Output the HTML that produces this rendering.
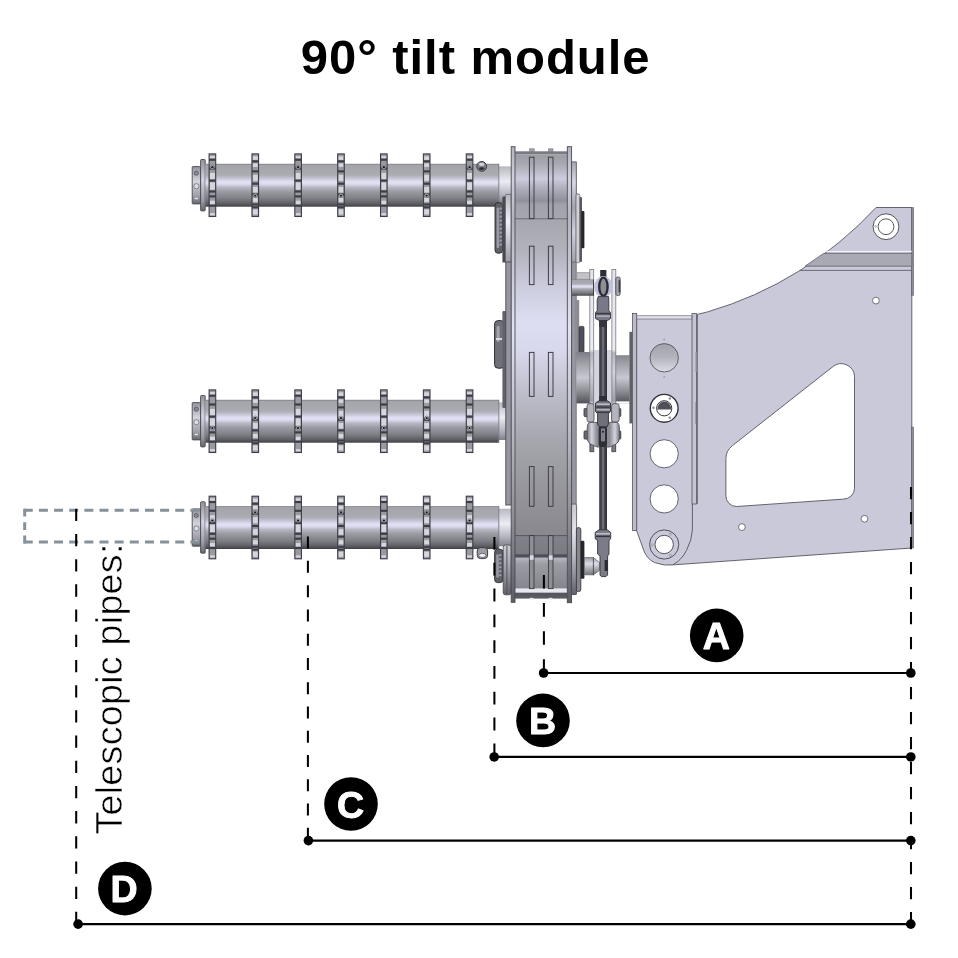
<!DOCTYPE html>
<html lang="en">
<head>
<meta charset="utf-8">
<title>90° tilt module</title>
<style>
html,body{margin:0;padding:0;background:#fff;}
body{width:958px;height:958px;overflow:hidden;position:relative;font-family:"Liberation Sans",sans-serif;}
svg{position:absolute;left:0;top:0;display:block;}
text{font-family:"Liberation Sans",sans-serif;}
</style>
</head>
<body>
<svg width="958" height="958" viewBox="0 0 958 958" style="will-change:transform">
<defs>
<filter id="soft" filterUnits="userSpaceOnUse" x="180" y="130" width="750" height="490"><feGaussianBlur stdDeviation="0.4"/></filter>
<linearGradient id="gTube" x1="0" y1="0" x2="0" y2="1">
<stop offset="0" stop-color="#7c7c84"/>
<stop offset="0.035" stop-color="#a4a4aa"/>
<stop offset="0.26" stop-color="#ababb3"/>
<stop offset="0.35" stop-color="#c8c8d8"/>
<stop offset="0.42" stop-color="#e2e2f6"/>
<stop offset="0.47" stop-color="#dcdcf0"/>
<stop offset="0.55" stop-color="#b6b6c2"/>
<stop offset="0.65" stop-color="#9a9aa2"/>
<stop offset="0.8" stop-color="#808088"/>
<stop offset="0.9" stop-color="#66666c"/>
<stop offset="0.97" stop-color="#4e4e54"/>
<stop offset="1" stop-color="#3c3c42"/>
</linearGradient>
<linearGradient id="gNeck" x1="0" y1="0" x2="0" y2="1">
<stop offset="0" stop-color="#b8b8c0"/>
<stop offset="0.4" stop-color="#ececf4"/>
<stop offset="0.75" stop-color="#b4b4bc"/>
<stop offset="1" stop-color="#80808a"/>
</linearGradient>
<linearGradient id="gCap" x1="0" y1="0" x2="0" y2="1">
<stop offset="0" stop-color="#94949c"/>
<stop offset="0.4" stop-color="#d4d4e0"/>
<stop offset="0.8" stop-color="#9c9ca4"/>
<stop offset="1" stop-color="#66666e"/>
</linearGradient>
<linearGradient id="gBody" gradientUnits="userSpaceOnUse" x1="0" y1="219" x2="0" y2="535">
<stop offset="0" stop-color="#a6a6ae"/>
<stop offset="0.1" stop-color="#b2b2bc"/>
<stop offset="0.22" stop-color="#cdcde0"/>
<stop offset="0.33" stop-color="#dedef2"/>
<stop offset="0.42" stop-color="#d8d8ec"/>
<stop offset="0.55" stop-color="#bebecb"/>
<stop offset="0.7" stop-color="#a6a6ae"/>
<stop offset="0.85" stop-color="#96969c"/>
<stop offset="1" stop-color="#88888e"/>
</linearGradient>
<linearGradient id="gTop" gradientUnits="userSpaceOnUse" x1="0" y1="154" x2="0" y2="219">
<stop offset="0" stop-color="#9c9ca4"/>
<stop offset="0.15" stop-color="#a8a8b0"/>
<stop offset="0.38" stop-color="#ccccdf"/>
<stop offset="0.5" stop-color="#b4b4c2"/>
<stop offset="0.72" stop-color="#90909a"/>
<stop offset="0.78" stop-color="#a2a2aa"/>
<stop offset="1" stop-color="#a6a6ae"/>
</linearGradient>
<linearGradient id="gBot" gradientUnits="userSpaceOnUse" x1="0" y1="535" x2="0" y2="599">
<stop offset="0" stop-color="#82828a"/>
<stop offset="0.29" stop-color="#7a7a82"/>
<stop offset="0.31" stop-color="#50505a"/>
<stop offset="0.345" stop-color="#50505a"/>
<stop offset="0.36" stop-color="#b6b6be"/>
<stop offset="0.45" stop-color="#9c9ca4"/>
<stop offset="0.83" stop-color="#85858d"/>
<stop offset="0.84" stop-color="#e8e8f0"/>
<stop offset="0.895" stop-color="#e8e8f0"/>
<stop offset="0.905" stop-color="#55555d"/>
<stop offset="1" stop-color="#5e5e66"/>
</linearGradient>
<linearGradient id="gPlateV" gradientUnits="userSpaceOnUse" x1="0" y1="150" x2="0" y2="600">
<stop offset="0" stop-color="#c0c0c8"/>
<stop offset="0.4" stop-color="#e6e6f4"/>
<stop offset="0.7" stop-color="#b8b8c0"/>
<stop offset="1" stop-color="#8e8e96"/>
</linearGradient>
<linearGradient id="gPlateI" gradientUnits="userSpaceOnUse" x1="0" y1="147" x2="0" y2="602">
<stop offset="0" stop-color="#b4b4bc"/>
<stop offset="0.07" stop-color="#d0d0dc"/>
<stop offset="0.16" stop-color="#b4b4bc"/>
<stop offset="0.4" stop-color="#e2e2f2"/>
<stop offset="0.65" stop-color="#b4b4bc"/>
<stop offset="0.85" stop-color="#85858d"/>
<stop offset="1" stop-color="#5e5e66"/>
</linearGradient>
<linearGradient id="gFl1" gradientUnits="userSpaceOnUse" x1="0" y1="194" x2="0" y2="262">
<stop offset="0" stop-color="#b4b4bc"/>
<stop offset="0.4" stop-color="#f0f0f8"/>
<stop offset="0.7" stop-color="#c4c4cc"/>
<stop offset="1" stop-color="#9c9ca4"/>
</linearGradient>
<linearGradient id="gFl2" gradientUnits="userSpaceOnUse" x1="0" y1="162" x2="0" y2="262">
<stop offset="0" stop-color="#a8a8b0"/>
<stop offset="0.2" stop-color="#d8d8e8"/>
<stop offset="0.45" stop-color="#a4a4ac"/>
<stop offset="0.7" stop-color="#d0d0e0"/>
<stop offset="1" stop-color="#a0a0a8"/>
</linearGradient>
<linearGradient id="gFl3" gradientUnits="userSpaceOnUse" x1="0" y1="504" x2="0" y2="595">
<stop offset="0" stop-color="#c8c8d0"/>
<stop offset="0.3" stop-color="#e4e4ec"/>
<stop offset="0.6" stop-color="#b4b4bc"/>
<stop offset="0.8" stop-color="#8c8c94"/>
<stop offset="1" stop-color="#606068"/>
</linearGradient>
<linearGradient id="gThin" gradientUnits="userSpaceOnUse" x1="0" y1="269" x2="0" y2="452">
<stop offset="0" stop-color="#e4e4ec"/>
<stop offset="0.44" stop-color="#ececf4"/>
<stop offset="0.46" stop-color="#b4b4bc"/>
<stop offset="0.56" stop-color="#d4d4dc"/>
<stop offset="0.72" stop-color="#a0a0a8"/>
<stop offset="0.74" stop-color="#dcdce4"/>
<stop offset="1" stop-color="#c4c4cc"/>
</linearGradient>
<linearGradient id="gClamp" x1="0" y1="0" x2="1" y2="0">
<stop offset="0" stop-color="#7c7c84"/>
<stop offset="0.14" stop-color="#d4d4dc"/>
<stop offset="0.3" stop-color="#8c8c94"/>
<stop offset="0.7" stop-color="#8c8c94"/>
<stop offset="0.86" stop-color="#d4d4dc"/>
<stop offset="1" stop-color="#7c7c84"/>
</linearGradient>
<linearGradient id="gShaft" x1="0" y1="0" x2="0" y2="1">
<stop offset="0" stop-color="#7c7c84"/>
<stop offset="0.25" stop-color="#a4a4ac"/>
<stop offset="0.5" stop-color="#c8c8d4"/>
<stop offset="0.7" stop-color="#9c9ca4"/>
<stop offset="0.9" stop-color="#6a6a72"/>
<stop offset="1" stop-color="#505058"/>
</linearGradient>
<linearGradient id="gPin" x1="0" y1="0" x2="0" y2="1">
<stop offset="0" stop-color="#9c9ca4"/>
<stop offset="0.35" stop-color="#dcdce8"/>
<stop offset="0.7" stop-color="#a4a4ac"/>
<stop offset="1" stop-color="#74747c"/>
</linearGradient>
<linearGradient id="gHole" x1="0" y1="0" x2="0" y2="1">
<stop offset="0" stop-color="#a2a2aa"/>
<stop offset="0.5" stop-color="#b4b4bc"/>
<stop offset="1" stop-color="#dcdce4"/>
</linearGradient>
<linearGradient id="gRod" x1="0" y1="0" x2="1" y2="0">
<stop offset="0" stop-color="#34343c"/>
<stop offset="0.3" stop-color="#4a4a54"/>
<stop offset="0.5" stop-color="#7c7c88"/>
<stop offset="0.7" stop-color="#44444c"/>
<stop offset="1" stop-color="#2e2e36"/>
</linearGradient>
<linearGradient id="gSpr" x1="0" y1="0" x2="1" y2="0">
<stop offset="0" stop-color="#b0b0b8"/>
<stop offset="0.5" stop-color="#e4e4ec"/>
<stop offset="1" stop-color="#b0b0b8"/>
</linearGradient>
</defs>

<text x="475.6" y="74" text-anchor="middle" font-size="49" font-weight="bold" letter-spacing="0.95" fill="#000">90° tilt module</text>
<g filter="url(#soft)">
<g><rect x="192.2" y="166.6" width="8.4" height="37.3" rx="0.8" fill="url(#gCap)" stroke="#4a4a52" stroke-width="0.9"/><circle cx="196.3" cy="173.2" r="2.1" fill="#8c8c94" stroke="#4a4a52" stroke-width="0.7"/><circle cx="196.4" cy="186.2" r="2.6" fill="#dcdce4" stroke="#66666e" stroke-width="0.7"/><rect x="194.2" y="197.2" width="4" height="2.4" fill="#e4e4ec" stroke="#77777f" stroke-width="0.5"/><rect x="200.6" y="159.5" width="4.6" height="51.4" rx="0.8" fill="url(#gCap)" stroke="#4a4a52" stroke-width="0.9"/><rect x="205.4" y="163.8" width="293.4" height="42.9" fill="url(#gTube)"/><rect x="498.6" y="166.4" width="13" height="37.6" fill="url(#gNeck)"/><line x1="498.8" y1="163.8" x2="498.8" y2="206.7" stroke="#6a6a72" stroke-width="0.8"/><g><rect x="209.10" y="153.90" width="6.6" height="62.6" fill="#9a9aa2"/><rect x="209.90" y="156.10" width="5.0" height="2.5" fill="#d6d6de"/><rect x="209.90" y="172.90" width="5.0" height="6.6" fill="#d6d6de"/><rect x="209.90" y="182.40" width="5.0" height="7.3" fill="#d6d6de"/><rect x="209.90" y="200.70" width="5.0" height="3.6" fill="#d6d6de"/><rect x="209.90" y="213.10" width="5.0" height="2.2" fill="#d6d6de"/><rect x="209.10" y="158.60" width="6.6" height="2.2" fill="#3e3e46"/><rect x="209.10" y="167.40" width="6.6" height="2.2" fill="#3e3e46"/><rect x="209.10" y="179.50" width="6.6" height="2.2" fill="#3e3e46"/><rect x="209.10" y="190.40" width="6.6" height="2.2" fill="#3e3e46"/><rect x="209.10" y="195.30" width="6.6" height="2.2" fill="#3e3e46"/><rect x="209.10" y="204.60" width="6.6" height="2.2" fill="#3e3e46"/><rect x="209.10" y="153.90" width="6.6" height="62.6" fill="none" stroke="#3e3e46" stroke-width="1.1"/></g><circle cx="212.40" cy="167.3" r="2" fill="#e6e6ee" stroke="#55555d" stroke-width="0.6"/><circle cx="212.40" cy="167.3" r="1.2" fill="#1c1c22"/><g><rect x="251.96" y="153.90" width="6.6" height="62.6" fill="#9a9aa2"/><rect x="252.76" y="156.30" width="5.0" height="3.6" fill="#d6d6de"/><rect x="252.76" y="163.40" width="5.0" height="3.5" fill="#d6d6de"/><rect x="252.76" y="174.90" width="5.0" height="6.0" fill="#d6d6de"/><rect x="252.76" y="186.90" width="5.0" height="5.6" fill="#d6d6de"/><rect x="252.76" y="197.90" width="5.0" height="4.0" fill="#d6d6de"/><rect x="252.76" y="209.40" width="5.0" height="5.1" fill="#d6d6de"/><rect x="251.96" y="160.30" width="6.6" height="2.2" fill="#3e3e46"/><rect x="251.96" y="170.30" width="6.6" height="2.2" fill="#3e3e46"/><rect x="251.96" y="182.60" width="6.6" height="2.2" fill="#3e3e46"/><rect x="251.96" y="193.30" width="6.6" height="2.2" fill="#3e3e46"/><rect x="251.96" y="203.40" width="6.6" height="2.2" fill="#3e3e46"/><rect x="251.96" y="206.20" width="6.6" height="2.2" fill="#3e3e46"/><rect x="251.96" y="153.90" width="6.6" height="62.6" fill="none" stroke="#3e3e46" stroke-width="1.1"/></g><circle cx="255.26" cy="195.6" r="2" fill="#e6e6ee" stroke="#55555d" stroke-width="0.6"/><circle cx="255.26" cy="195.6" r="1.2" fill="#1c1c22"/><g><rect x="294.82" y="153.90" width="6.6" height="62.6" fill="#9a9aa2"/><rect x="295.62" y="156.10" width="5.0" height="2.5" fill="#d6d6de"/><rect x="295.62" y="172.90" width="5.0" height="6.6" fill="#d6d6de"/><rect x="295.62" y="182.40" width="5.0" height="7.3" fill="#d6d6de"/><rect x="295.62" y="200.70" width="5.0" height="3.6" fill="#d6d6de"/><rect x="295.62" y="213.10" width="5.0" height="2.2" fill="#d6d6de"/><rect x="294.82" y="158.60" width="6.6" height="2.2" fill="#3e3e46"/><rect x="294.82" y="167.40" width="6.6" height="2.2" fill="#3e3e46"/><rect x="294.82" y="179.50" width="6.6" height="2.2" fill="#3e3e46"/><rect x="294.82" y="190.40" width="6.6" height="2.2" fill="#3e3e46"/><rect x="294.82" y="195.30" width="6.6" height="2.2" fill="#3e3e46"/><rect x="294.82" y="204.60" width="6.6" height="2.2" fill="#3e3e46"/><rect x="294.82" y="153.90" width="6.6" height="62.6" fill="none" stroke="#3e3e46" stroke-width="1.1"/></g><circle cx="298.12" cy="167.3" r="2" fill="#e6e6ee" stroke="#55555d" stroke-width="0.6"/><circle cx="298.12" cy="167.3" r="1.2" fill="#1c1c22"/><g><rect x="337.68" y="153.90" width="6.6" height="62.6" fill="#9a9aa2"/><rect x="338.48" y="156.30" width="5.0" height="3.6" fill="#d6d6de"/><rect x="338.48" y="163.40" width="5.0" height="3.5" fill="#d6d6de"/><rect x="338.48" y="174.90" width="5.0" height="6.0" fill="#d6d6de"/><rect x="338.48" y="186.90" width="5.0" height="5.6" fill="#d6d6de"/><rect x="338.48" y="197.90" width="5.0" height="4.0" fill="#d6d6de"/><rect x="338.48" y="209.40" width="5.0" height="5.1" fill="#d6d6de"/><rect x="337.68" y="160.30" width="6.6" height="2.2" fill="#3e3e46"/><rect x="337.68" y="170.30" width="6.6" height="2.2" fill="#3e3e46"/><rect x="337.68" y="182.60" width="6.6" height="2.2" fill="#3e3e46"/><rect x="337.68" y="193.30" width="6.6" height="2.2" fill="#3e3e46"/><rect x="337.68" y="203.40" width="6.6" height="2.2" fill="#3e3e46"/><rect x="337.68" y="206.20" width="6.6" height="2.2" fill="#3e3e46"/><rect x="337.68" y="153.90" width="6.6" height="62.6" fill="none" stroke="#3e3e46" stroke-width="1.1"/></g><circle cx="340.98" cy="195.6" r="2" fill="#e6e6ee" stroke="#55555d" stroke-width="0.6"/><circle cx="340.98" cy="195.6" r="1.2" fill="#1c1c22"/><g><rect x="380.54" y="153.90" width="6.6" height="62.6" fill="#9a9aa2"/><rect x="381.34" y="156.10" width="5.0" height="2.5" fill="#d6d6de"/><rect x="381.34" y="172.90" width="5.0" height="6.6" fill="#d6d6de"/><rect x="381.34" y="182.40" width="5.0" height="7.3" fill="#d6d6de"/><rect x="381.34" y="200.70" width="5.0" height="3.6" fill="#d6d6de"/><rect x="381.34" y="213.10" width="5.0" height="2.2" fill="#d6d6de"/><rect x="380.54" y="158.60" width="6.6" height="2.2" fill="#3e3e46"/><rect x="380.54" y="167.40" width="6.6" height="2.2" fill="#3e3e46"/><rect x="380.54" y="179.50" width="6.6" height="2.2" fill="#3e3e46"/><rect x="380.54" y="190.40" width="6.6" height="2.2" fill="#3e3e46"/><rect x="380.54" y="195.30" width="6.6" height="2.2" fill="#3e3e46"/><rect x="380.54" y="204.60" width="6.6" height="2.2" fill="#3e3e46"/><rect x="380.54" y="153.90" width="6.6" height="62.6" fill="none" stroke="#3e3e46" stroke-width="1.1"/></g><circle cx="383.84" cy="167.3" r="2" fill="#e6e6ee" stroke="#55555d" stroke-width="0.6"/><circle cx="383.84" cy="167.3" r="1.2" fill="#1c1c22"/><g><rect x="423.40" y="153.90" width="6.6" height="62.6" fill="#9a9aa2"/><rect x="424.20" y="156.30" width="5.0" height="3.6" fill="#d6d6de"/><rect x="424.20" y="163.40" width="5.0" height="3.5" fill="#d6d6de"/><rect x="424.20" y="174.90" width="5.0" height="6.0" fill="#d6d6de"/><rect x="424.20" y="186.90" width="5.0" height="5.6" fill="#d6d6de"/><rect x="424.20" y="197.90" width="5.0" height="4.0" fill="#d6d6de"/><rect x="424.20" y="209.40" width="5.0" height="5.1" fill="#d6d6de"/><rect x="423.40" y="160.30" width="6.6" height="2.2" fill="#3e3e46"/><rect x="423.40" y="170.30" width="6.6" height="2.2" fill="#3e3e46"/><rect x="423.40" y="182.60" width="6.6" height="2.2" fill="#3e3e46"/><rect x="423.40" y="193.30" width="6.6" height="2.2" fill="#3e3e46"/><rect x="423.40" y="203.40" width="6.6" height="2.2" fill="#3e3e46"/><rect x="423.40" y="206.20" width="6.6" height="2.2" fill="#3e3e46"/><rect x="423.40" y="153.90" width="6.6" height="62.6" fill="none" stroke="#3e3e46" stroke-width="1.1"/></g><circle cx="426.70" cy="195.6" r="2" fill="#e6e6ee" stroke="#55555d" stroke-width="0.6"/><circle cx="426.70" cy="195.6" r="1.2" fill="#1c1c22"/><g><rect x="466.26" y="153.90" width="6.6" height="62.6" fill="#9a9aa2"/><rect x="467.06" y="156.10" width="5.0" height="2.5" fill="#d6d6de"/><rect x="467.06" y="172.90" width="5.0" height="6.6" fill="#d6d6de"/><rect x="467.06" y="182.40" width="5.0" height="7.3" fill="#d6d6de"/><rect x="467.06" y="200.70" width="5.0" height="3.6" fill="#d6d6de"/><rect x="467.06" y="213.10" width="5.0" height="2.2" fill="#d6d6de"/><rect x="466.26" y="158.60" width="6.6" height="2.2" fill="#3e3e46"/><rect x="466.26" y="167.40" width="6.6" height="2.2" fill="#3e3e46"/><rect x="466.26" y="179.50" width="6.6" height="2.2" fill="#3e3e46"/><rect x="466.26" y="190.40" width="6.6" height="2.2" fill="#3e3e46"/><rect x="466.26" y="195.30" width="6.6" height="2.2" fill="#3e3e46"/><rect x="466.26" y="204.60" width="6.6" height="2.2" fill="#3e3e46"/><rect x="466.26" y="153.90" width="6.6" height="62.6" fill="none" stroke="#3e3e46" stroke-width="1.1"/></g><circle cx="469.56" cy="167.3" r="2" fill="#e6e6ee" stroke="#55555d" stroke-width="0.6"/><circle cx="469.56" cy="167.3" r="1.2" fill="#1c1c22"/></g>
<g><rect x="192.2" y="402.6" width="8.4" height="37.3" rx="0.8" fill="url(#gCap)" stroke="#4a4a52" stroke-width="0.9"/><circle cx="196.3" cy="409.2" r="2.1" fill="#8c8c94" stroke="#4a4a52" stroke-width="0.7"/><circle cx="196.4" cy="422.2" r="2.6" fill="#dcdce4" stroke="#66666e" stroke-width="0.7"/><rect x="194.2" y="433.2" width="4" height="2.4" fill="#e4e4ec" stroke="#77777f" stroke-width="0.5"/><rect x="200.6" y="395.5" width="4.6" height="51.4" rx="0.8" fill="url(#gCap)" stroke="#4a4a52" stroke-width="0.9"/><rect x="205.4" y="399.8" width="293.4" height="42.9" fill="url(#gTube)"/><rect x="498.6" y="402.4" width="13" height="37.6" fill="url(#gNeck)"/><line x1="498.8" y1="399.8" x2="498.8" y2="442.7" stroke="#6a6a72" stroke-width="0.8"/><g><rect x="209.10" y="389.90" width="6.6" height="62.6" fill="#9a9aa2"/><rect x="209.90" y="392.10" width="5.0" height="2.5" fill="#d6d6de"/><rect x="209.90" y="408.90" width="5.0" height="6.6" fill="#d6d6de"/><rect x="209.90" y="418.40" width="5.0" height="7.3" fill="#d6d6de"/><rect x="209.90" y="436.70" width="5.0" height="3.6" fill="#d6d6de"/><rect x="209.90" y="449.10" width="5.0" height="2.2" fill="#d6d6de"/><rect x="209.10" y="394.60" width="6.6" height="2.2" fill="#3e3e46"/><rect x="209.10" y="403.40" width="6.6" height="2.2" fill="#3e3e46"/><rect x="209.10" y="415.50" width="6.6" height="2.2" fill="#3e3e46"/><rect x="209.10" y="426.40" width="6.6" height="2.2" fill="#3e3e46"/><rect x="209.10" y="431.30" width="6.6" height="2.2" fill="#3e3e46"/><rect x="209.10" y="440.60" width="6.6" height="2.2" fill="#3e3e46"/><rect x="209.10" y="389.90" width="6.6" height="62.6" fill="none" stroke="#3e3e46" stroke-width="1.1"/></g><circle cx="212.40" cy="428.1" r="2" fill="#e6e6ee" stroke="#55555d" stroke-width="0.6"/><circle cx="212.40" cy="428.1" r="1.2" fill="#1c1c22"/><g><rect x="251.96" y="389.90" width="6.6" height="62.6" fill="#9a9aa2"/><rect x="252.76" y="392.30" width="5.0" height="3.6" fill="#d6d6de"/><rect x="252.76" y="399.40" width="5.0" height="3.5" fill="#d6d6de"/><rect x="252.76" y="410.90" width="5.0" height="6.0" fill="#d6d6de"/><rect x="252.76" y="422.90" width="5.0" height="5.6" fill="#d6d6de"/><rect x="252.76" y="433.90" width="5.0" height="4.0" fill="#d6d6de"/><rect x="252.76" y="445.40" width="5.0" height="5.1" fill="#d6d6de"/><rect x="251.96" y="396.30" width="6.6" height="2.2" fill="#3e3e46"/><rect x="251.96" y="406.30" width="6.6" height="2.2" fill="#3e3e46"/><rect x="251.96" y="418.60" width="6.6" height="2.2" fill="#3e3e46"/><rect x="251.96" y="429.30" width="6.6" height="2.2" fill="#3e3e46"/><rect x="251.96" y="439.40" width="6.6" height="2.2" fill="#3e3e46"/><rect x="251.96" y="442.20" width="6.6" height="2.2" fill="#3e3e46"/><rect x="251.96" y="389.90" width="6.6" height="62.6" fill="none" stroke="#3e3e46" stroke-width="1.1"/></g><circle cx="255.26" cy="418.1" r="2" fill="#e6e6ee" stroke="#55555d" stroke-width="0.6"/><circle cx="255.26" cy="418.1" r="1.2" fill="#1c1c22"/><g><rect x="294.82" y="389.90" width="6.6" height="62.6" fill="#9a9aa2"/><rect x="295.62" y="392.10" width="5.0" height="2.5" fill="#d6d6de"/><rect x="295.62" y="408.90" width="5.0" height="6.6" fill="#d6d6de"/><rect x="295.62" y="418.40" width="5.0" height="7.3" fill="#d6d6de"/><rect x="295.62" y="436.70" width="5.0" height="3.6" fill="#d6d6de"/><rect x="295.62" y="449.10" width="5.0" height="2.2" fill="#d6d6de"/><rect x="294.82" y="394.60" width="6.6" height="2.2" fill="#3e3e46"/><rect x="294.82" y="403.40" width="6.6" height="2.2" fill="#3e3e46"/><rect x="294.82" y="415.50" width="6.6" height="2.2" fill="#3e3e46"/><rect x="294.82" y="426.40" width="6.6" height="2.2" fill="#3e3e46"/><rect x="294.82" y="431.30" width="6.6" height="2.2" fill="#3e3e46"/><rect x="294.82" y="440.60" width="6.6" height="2.2" fill="#3e3e46"/><rect x="294.82" y="389.90" width="6.6" height="62.6" fill="none" stroke="#3e3e46" stroke-width="1.1"/></g><circle cx="298.12" cy="428.1" r="2" fill="#e6e6ee" stroke="#55555d" stroke-width="0.6"/><circle cx="298.12" cy="428.1" r="1.2" fill="#1c1c22"/><g><rect x="337.68" y="389.90" width="6.6" height="62.6" fill="#9a9aa2"/><rect x="338.48" y="392.30" width="5.0" height="3.6" fill="#d6d6de"/><rect x="338.48" y="399.40" width="5.0" height="3.5" fill="#d6d6de"/><rect x="338.48" y="410.90" width="5.0" height="6.0" fill="#d6d6de"/><rect x="338.48" y="422.90" width="5.0" height="5.6" fill="#d6d6de"/><rect x="338.48" y="433.90" width="5.0" height="4.0" fill="#d6d6de"/><rect x="338.48" y="445.40" width="5.0" height="5.1" fill="#d6d6de"/><rect x="337.68" y="396.30" width="6.6" height="2.2" fill="#3e3e46"/><rect x="337.68" y="406.30" width="6.6" height="2.2" fill="#3e3e46"/><rect x="337.68" y="418.60" width="6.6" height="2.2" fill="#3e3e46"/><rect x="337.68" y="429.30" width="6.6" height="2.2" fill="#3e3e46"/><rect x="337.68" y="439.40" width="6.6" height="2.2" fill="#3e3e46"/><rect x="337.68" y="442.20" width="6.6" height="2.2" fill="#3e3e46"/><rect x="337.68" y="389.90" width="6.6" height="62.6" fill="none" stroke="#3e3e46" stroke-width="1.1"/></g><circle cx="340.98" cy="418.1" r="2" fill="#e6e6ee" stroke="#55555d" stroke-width="0.6"/><circle cx="340.98" cy="418.1" r="1.2" fill="#1c1c22"/><g><rect x="380.54" y="389.90" width="6.6" height="62.6" fill="#9a9aa2"/><rect x="381.34" y="392.10" width="5.0" height="2.5" fill="#d6d6de"/><rect x="381.34" y="408.90" width="5.0" height="6.6" fill="#d6d6de"/><rect x="381.34" y="418.40" width="5.0" height="7.3" fill="#d6d6de"/><rect x="381.34" y="436.70" width="5.0" height="3.6" fill="#d6d6de"/><rect x="381.34" y="449.10" width="5.0" height="2.2" fill="#d6d6de"/><rect x="380.54" y="394.60" width="6.6" height="2.2" fill="#3e3e46"/><rect x="380.54" y="403.40" width="6.6" height="2.2" fill="#3e3e46"/><rect x="380.54" y="415.50" width="6.6" height="2.2" fill="#3e3e46"/><rect x="380.54" y="426.40" width="6.6" height="2.2" fill="#3e3e46"/><rect x="380.54" y="431.30" width="6.6" height="2.2" fill="#3e3e46"/><rect x="380.54" y="440.60" width="6.6" height="2.2" fill="#3e3e46"/><rect x="380.54" y="389.90" width="6.6" height="62.6" fill="none" stroke="#3e3e46" stroke-width="1.1"/></g><circle cx="383.84" cy="428.1" r="2" fill="#e6e6ee" stroke="#55555d" stroke-width="0.6"/><circle cx="383.84" cy="428.1" r="1.2" fill="#1c1c22"/><g><rect x="423.40" y="389.90" width="6.6" height="62.6" fill="#9a9aa2"/><rect x="424.20" y="392.30" width="5.0" height="3.6" fill="#d6d6de"/><rect x="424.20" y="399.40" width="5.0" height="3.5" fill="#d6d6de"/><rect x="424.20" y="410.90" width="5.0" height="6.0" fill="#d6d6de"/><rect x="424.20" y="422.90" width="5.0" height="5.6" fill="#d6d6de"/><rect x="424.20" y="433.90" width="5.0" height="4.0" fill="#d6d6de"/><rect x="424.20" y="445.40" width="5.0" height="5.1" fill="#d6d6de"/><rect x="423.40" y="396.30" width="6.6" height="2.2" fill="#3e3e46"/><rect x="423.40" y="406.30" width="6.6" height="2.2" fill="#3e3e46"/><rect x="423.40" y="418.60" width="6.6" height="2.2" fill="#3e3e46"/><rect x="423.40" y="429.30" width="6.6" height="2.2" fill="#3e3e46"/><rect x="423.40" y="439.40" width="6.6" height="2.2" fill="#3e3e46"/><rect x="423.40" y="442.20" width="6.6" height="2.2" fill="#3e3e46"/><rect x="423.40" y="389.90" width="6.6" height="62.6" fill="none" stroke="#3e3e46" stroke-width="1.1"/></g><circle cx="426.70" cy="418.1" r="2" fill="#e6e6ee" stroke="#55555d" stroke-width="0.6"/><circle cx="426.70" cy="418.1" r="1.2" fill="#1c1c22"/><g><rect x="466.26" y="389.90" width="6.6" height="62.6" fill="#9a9aa2"/><rect x="467.06" y="392.10" width="5.0" height="2.5" fill="#d6d6de"/><rect x="467.06" y="408.90" width="5.0" height="6.6" fill="#d6d6de"/><rect x="467.06" y="418.40" width="5.0" height="7.3" fill="#d6d6de"/><rect x="467.06" y="436.70" width="5.0" height="3.6" fill="#d6d6de"/><rect x="467.06" y="449.10" width="5.0" height="2.2" fill="#d6d6de"/><rect x="466.26" y="394.60" width="6.6" height="2.2" fill="#3e3e46"/><rect x="466.26" y="403.40" width="6.6" height="2.2" fill="#3e3e46"/><rect x="466.26" y="415.50" width="6.6" height="2.2" fill="#3e3e46"/><rect x="466.26" y="426.40" width="6.6" height="2.2" fill="#3e3e46"/><rect x="466.26" y="431.30" width="6.6" height="2.2" fill="#3e3e46"/><rect x="466.26" y="440.60" width="6.6" height="2.2" fill="#3e3e46"/><rect x="466.26" y="389.90" width="6.6" height="62.6" fill="none" stroke="#3e3e46" stroke-width="1.1"/></g><circle cx="469.56" cy="428.1" r="2" fill="#e6e6ee" stroke="#55555d" stroke-width="0.6"/><circle cx="469.56" cy="428.1" r="1.2" fill="#1c1c22"/></g>
<g><rect x="192.2" y="508.9" width="8.4" height="37.3" rx="0.8" fill="url(#gCap)" stroke="#4a4a52" stroke-width="0.9"/><circle cx="196.3" cy="515.5" r="2.1" fill="#8c8c94" stroke="#4a4a52" stroke-width="0.7"/><circle cx="196.4" cy="528.5" r="2.6" fill="#dcdce4" stroke="#66666e" stroke-width="0.7"/><rect x="194.2" y="539.5" width="4" height="2.4" fill="#e4e4ec" stroke="#77777f" stroke-width="0.5"/><rect x="200.6" y="501.8" width="4.6" height="51.4" rx="0.8" fill="url(#gCap)" stroke="#4a4a52" stroke-width="0.9"/><rect x="205.4" y="506.1" width="293.4" height="42.9" fill="url(#gTube)"/><rect x="498.6" y="508.7" width="13" height="37.6" fill="url(#gNeck)"/><line x1="498.8" y1="506.1" x2="498.8" y2="549.0" stroke="#6a6a72" stroke-width="0.8"/><g><rect x="209.10" y="496.20" width="6.6" height="62.6" fill="#9a9aa2"/><rect x="209.90" y="498.40" width="5.0" height="2.5" fill="#d6d6de"/><rect x="209.90" y="515.20" width="5.0" height="6.6" fill="#d6d6de"/><rect x="209.90" y="524.70" width="5.0" height="7.3" fill="#d6d6de"/><rect x="209.90" y="543.00" width="5.0" height="3.6" fill="#d6d6de"/><rect x="209.90" y="555.40" width="5.0" height="2.2" fill="#d6d6de"/><rect x="209.10" y="500.90" width="6.6" height="2.2" fill="#3e3e46"/><rect x="209.10" y="509.70" width="6.6" height="2.2" fill="#3e3e46"/><rect x="209.10" y="521.80" width="6.6" height="2.2" fill="#3e3e46"/><rect x="209.10" y="532.70" width="6.6" height="2.2" fill="#3e3e46"/><rect x="209.10" y="537.60" width="6.6" height="2.2" fill="#3e3e46"/><rect x="209.10" y="546.90" width="6.6" height="2.2" fill="#3e3e46"/><rect x="209.10" y="496.20" width="6.6" height="62.6" fill="none" stroke="#3e3e46" stroke-width="1.1"/></g><circle cx="212.40" cy="520.6" r="2" fill="#e6e6ee" stroke="#55555d" stroke-width="0.6"/><circle cx="212.40" cy="520.6" r="1.2" fill="#1c1c22"/><g><rect x="251.96" y="496.20" width="6.6" height="62.6" fill="#9a9aa2"/><rect x="252.76" y="498.60" width="5.0" height="3.6" fill="#d6d6de"/><rect x="252.76" y="505.70" width="5.0" height="3.5" fill="#d6d6de"/><rect x="252.76" y="517.20" width="5.0" height="6.0" fill="#d6d6de"/><rect x="252.76" y="529.20" width="5.0" height="5.6" fill="#d6d6de"/><rect x="252.76" y="540.20" width="5.0" height="4.0" fill="#d6d6de"/><rect x="252.76" y="551.70" width="5.0" height="5.1" fill="#d6d6de"/><rect x="251.96" y="502.60" width="6.6" height="2.2" fill="#3e3e46"/><rect x="251.96" y="512.60" width="6.6" height="2.2" fill="#3e3e46"/><rect x="251.96" y="524.90" width="6.6" height="2.2" fill="#3e3e46"/><rect x="251.96" y="535.60" width="6.6" height="2.2" fill="#3e3e46"/><rect x="251.96" y="545.70" width="6.6" height="2.2" fill="#3e3e46"/><rect x="251.96" y="548.50" width="6.6" height="2.2" fill="#3e3e46"/><rect x="251.96" y="496.20" width="6.6" height="62.6" fill="none" stroke="#3e3e46" stroke-width="1.1"/></g><circle cx="255.26" cy="512.5" r="2" fill="#e6e6ee" stroke="#55555d" stroke-width="0.6"/><circle cx="255.26" cy="512.5" r="1.2" fill="#1c1c22"/><g><rect x="294.82" y="496.20" width="6.6" height="62.6" fill="#9a9aa2"/><rect x="295.62" y="498.40" width="5.0" height="2.5" fill="#d6d6de"/><rect x="295.62" y="515.20" width="5.0" height="6.6" fill="#d6d6de"/><rect x="295.62" y="524.70" width="5.0" height="7.3" fill="#d6d6de"/><rect x="295.62" y="543.00" width="5.0" height="3.6" fill="#d6d6de"/><rect x="295.62" y="555.40" width="5.0" height="2.2" fill="#d6d6de"/><rect x="294.82" y="500.90" width="6.6" height="2.2" fill="#3e3e46"/><rect x="294.82" y="509.70" width="6.6" height="2.2" fill="#3e3e46"/><rect x="294.82" y="521.80" width="6.6" height="2.2" fill="#3e3e46"/><rect x="294.82" y="532.70" width="6.6" height="2.2" fill="#3e3e46"/><rect x="294.82" y="537.60" width="6.6" height="2.2" fill="#3e3e46"/><rect x="294.82" y="546.90" width="6.6" height="2.2" fill="#3e3e46"/><rect x="294.82" y="496.20" width="6.6" height="62.6" fill="none" stroke="#3e3e46" stroke-width="1.1"/></g><circle cx="298.12" cy="520.6" r="2" fill="#e6e6ee" stroke="#55555d" stroke-width="0.6"/><circle cx="298.12" cy="520.6" r="1.2" fill="#1c1c22"/><g><rect x="337.68" y="496.20" width="6.6" height="62.6" fill="#9a9aa2"/><rect x="338.48" y="498.60" width="5.0" height="3.6" fill="#d6d6de"/><rect x="338.48" y="505.70" width="5.0" height="3.5" fill="#d6d6de"/><rect x="338.48" y="517.20" width="5.0" height="6.0" fill="#d6d6de"/><rect x="338.48" y="529.20" width="5.0" height="5.6" fill="#d6d6de"/><rect x="338.48" y="540.20" width="5.0" height="4.0" fill="#d6d6de"/><rect x="338.48" y="551.70" width="5.0" height="5.1" fill="#d6d6de"/><rect x="337.68" y="502.60" width="6.6" height="2.2" fill="#3e3e46"/><rect x="337.68" y="512.60" width="6.6" height="2.2" fill="#3e3e46"/><rect x="337.68" y="524.90" width="6.6" height="2.2" fill="#3e3e46"/><rect x="337.68" y="535.60" width="6.6" height="2.2" fill="#3e3e46"/><rect x="337.68" y="545.70" width="6.6" height="2.2" fill="#3e3e46"/><rect x="337.68" y="548.50" width="6.6" height="2.2" fill="#3e3e46"/><rect x="337.68" y="496.20" width="6.6" height="62.6" fill="none" stroke="#3e3e46" stroke-width="1.1"/></g><circle cx="340.98" cy="512.5" r="2" fill="#e6e6ee" stroke="#55555d" stroke-width="0.6"/><circle cx="340.98" cy="512.5" r="1.2" fill="#1c1c22"/><g><rect x="380.54" y="496.20" width="6.6" height="62.6" fill="#9a9aa2"/><rect x="381.34" y="498.40" width="5.0" height="2.5" fill="#d6d6de"/><rect x="381.34" y="515.20" width="5.0" height="6.6" fill="#d6d6de"/><rect x="381.34" y="524.70" width="5.0" height="7.3" fill="#d6d6de"/><rect x="381.34" y="543.00" width="5.0" height="3.6" fill="#d6d6de"/><rect x="381.34" y="555.40" width="5.0" height="2.2" fill="#d6d6de"/><rect x="380.54" y="500.90" width="6.6" height="2.2" fill="#3e3e46"/><rect x="380.54" y="509.70" width="6.6" height="2.2" fill="#3e3e46"/><rect x="380.54" y="521.80" width="6.6" height="2.2" fill="#3e3e46"/><rect x="380.54" y="532.70" width="6.6" height="2.2" fill="#3e3e46"/><rect x="380.54" y="537.60" width="6.6" height="2.2" fill="#3e3e46"/><rect x="380.54" y="546.90" width="6.6" height="2.2" fill="#3e3e46"/><rect x="380.54" y="496.20" width="6.6" height="62.6" fill="none" stroke="#3e3e46" stroke-width="1.1"/></g><circle cx="383.84" cy="520.6" r="2" fill="#e6e6ee" stroke="#55555d" stroke-width="0.6"/><circle cx="383.84" cy="520.6" r="1.2" fill="#1c1c22"/><g><rect x="423.40" y="496.20" width="6.6" height="62.6" fill="#9a9aa2"/><rect x="424.20" y="498.60" width="5.0" height="3.6" fill="#d6d6de"/><rect x="424.20" y="505.70" width="5.0" height="3.5" fill="#d6d6de"/><rect x="424.20" y="517.20" width="5.0" height="6.0" fill="#d6d6de"/><rect x="424.20" y="529.20" width="5.0" height="5.6" fill="#d6d6de"/><rect x="424.20" y="540.20" width="5.0" height="4.0" fill="#d6d6de"/><rect x="424.20" y="551.70" width="5.0" height="5.1" fill="#d6d6de"/><rect x="423.40" y="502.60" width="6.6" height="2.2" fill="#3e3e46"/><rect x="423.40" y="512.60" width="6.6" height="2.2" fill="#3e3e46"/><rect x="423.40" y="524.90" width="6.6" height="2.2" fill="#3e3e46"/><rect x="423.40" y="535.60" width="6.6" height="2.2" fill="#3e3e46"/><rect x="423.40" y="545.70" width="6.6" height="2.2" fill="#3e3e46"/><rect x="423.40" y="548.50" width="6.6" height="2.2" fill="#3e3e46"/><rect x="423.40" y="496.20" width="6.6" height="62.6" fill="none" stroke="#3e3e46" stroke-width="1.1"/></g><circle cx="426.70" cy="512.5" r="2" fill="#e6e6ee" stroke="#55555d" stroke-width="0.6"/><circle cx="426.70" cy="512.5" r="1.2" fill="#1c1c22"/><g><rect x="466.26" y="496.20" width="6.6" height="62.6" fill="#9a9aa2"/><rect x="467.06" y="498.40" width="5.0" height="2.5" fill="#d6d6de"/><rect x="467.06" y="515.20" width="5.0" height="6.6" fill="#d6d6de"/><rect x="467.06" y="524.70" width="5.0" height="7.3" fill="#d6d6de"/><rect x="467.06" y="543.00" width="5.0" height="3.6" fill="#d6d6de"/><rect x="467.06" y="555.40" width="5.0" height="2.2" fill="#d6d6de"/><rect x="466.26" y="500.90" width="6.6" height="2.2" fill="#3e3e46"/><rect x="466.26" y="509.70" width="6.6" height="2.2" fill="#3e3e46"/><rect x="466.26" y="521.80" width="6.6" height="2.2" fill="#3e3e46"/><rect x="466.26" y="532.70" width="6.6" height="2.2" fill="#3e3e46"/><rect x="466.26" y="537.60" width="6.6" height="2.2" fill="#3e3e46"/><rect x="466.26" y="546.90" width="6.6" height="2.2" fill="#3e3e46"/><rect x="466.26" y="496.20" width="6.6" height="62.6" fill="none" stroke="#3e3e46" stroke-width="1.1"/></g><circle cx="469.56" cy="520.6" r="2" fill="#e6e6ee" stroke="#55555d" stroke-width="0.6"/><circle cx="469.56" cy="520.6" r="1.2" fill="#1c1c22"/></g>
<g><circle cx="481.7" cy="166.4" r="4.9" fill="#7c7c86" stroke="#3a3a42" stroke-width="1"/><ellipse cx="481.7" cy="164.4" rx="3.2" ry="2.2" fill="#d0d0d8" stroke="#55555d" stroke-width="0.6"/><ellipse cx="481.7" cy="168.6" rx="2.8" ry="1.4" fill="#2e2e36"/></g>
<g><rect x="477.2" y="547.6" width="10.4" height="11" rx="3.4" fill="#9c9ca6" stroke="#3a3a42" stroke-width="1"/><ellipse cx="482.4" cy="555.4" rx="3.6" ry="2" fill="#f0f0f6" stroke="#4a4a52" stroke-width="0.7"/></g>
<g><rect x="495.0" y="202.6" width="7.6" height="50.6" rx="3" fill="#5e5e66" stroke="#2e2e36" stroke-width="0.9"/><rect x="496.6" y="207.6" width="2.6" height="40.6" rx="1.2" fill="#9a9aa6"/><rect x="499.6" y="207.6" width="2.2" height="2" fill="#a0a0aa"/><rect x="499.6" y="211.6" width="2.2" height="2" fill="#a0a0aa"/><rect x="499.6" y="215.6" width="2.2" height="2" fill="#a0a0aa"/><rect x="499.6" y="219.6" width="2.2" height="2" fill="#a0a0aa"/><rect x="499.6" y="223.6" width="2.2" height="2" fill="#a0a0aa"/><rect x="499.6" y="227.6" width="2.2" height="2" fill="#a0a0aa"/><rect x="499.6" y="231.6" width="2.2" height="2" fill="#a0a0aa"/><rect x="499.6" y="235.6" width="2.2" height="2" fill="#a0a0aa"/><rect x="499.6" y="239.6" width="2.2" height="2" fill="#a0a0aa"/><rect x="499.6" y="243.6" width="2.2" height="2" fill="#a0a0aa"/><rect x="502.4" y="196.6" width="3.6" height="66" rx="1.2" fill="#4a4a52"/><rect x="505.4" y="194.4" width="5.8" height="68" rx="1.2" fill="url(#gFl1)" stroke="#5a5a62" stroke-width="0.7"/><rect x="494.6" y="320.6" width="9.6" height="47.6" rx="3.5" fill="#70707a" stroke="#2e2e36" stroke-width="1"/><rect x="496.6" y="326" width="3" height="16" rx="1.4" fill="#a4a4ae"/><rect x="496" y="338" width="6" height="2" fill="#d8d8e0"/><rect x="502.4" y="311" width="3.6" height="97" rx="1.2" fill="#62626a"/><rect x="505.8" y="262" width="5.6" height="243" fill="#9696a0" stroke="#4a4a52" stroke-width="0.9"/><rect x="494.6" y="549.2" width="8.4" height="33.4" rx="3" fill="#5e5e66" stroke="#2e2e36" stroke-width="0.9"/><rect x="496.20000000000005" y="554.2" width="2.6" height="23.4" rx="1.2" fill="#9a9aa6"/><rect x="499.20000000000005" y="554.2" width="2.2" height="2" fill="#a0a0aa"/><rect x="499.20000000000005" y="558.2" width="2.2" height="2" fill="#a0a0aa"/><rect x="499.20000000000005" y="562.2" width="2.2" height="2" fill="#a0a0aa"/><rect x="499.20000000000005" y="566.2" width="2.2" height="2" fill="#a0a0aa"/><rect x="499.20000000000005" y="570.2" width="2.2" height="2" fill="#a0a0aa"/><rect x="499.20000000000005" y="574.2" width="2.2" height="2" fill="#a0a0aa"/><rect x="503.2" y="545" width="8" height="49.8" rx="2.2" fill="url(#gFl3)" stroke="#44444c" stroke-width="0.8"/><rect x="506.4" y="546" width="1" height="48" fill="#55555d"/><rect x="571.4" y="162" width="4.8" height="432.6" fill="#9696a0" stroke="#5a5a62" stroke-width="0.7"/><rect x="571.4" y="162" width="4.8" height="100" fill="url(#gFl2)" stroke="#5a5a62" stroke-width="0.7"/><rect x="571.4" y="504" width="5.2" height="90.6" rx="1.5" fill="url(#gFl3)" stroke="#4a4a52" stroke-width="0.7"/><rect x="576" y="193.8" width="3.8" height="69" rx="1.6" fill="#d0d0d8" stroke="#5a5a62" stroke-width="0.7"/><rect x="579.6" y="197" width="2.4" height="65" rx="1" fill="#5a5a62"/><rect x="581.2" y="211" width="3.2" height="37.2" rx="1" fill="#26262c"/><rect x="576.2" y="300" width="3" height="60" fill="#8a8a92"/><rect x="579" y="326.4" width="5" height="26" rx="1.2" fill="#50505a" stroke="#2e2e36" stroke-width="0.7"/><rect x="576.4" y="527.6" width="4.4" height="64" rx="2" fill="#86868e" stroke="#3a3a42" stroke-width="0.9"/><rect x="580.6" y="540.7" width="3.8" height="38" rx="1.2" fill="#26262c"/><rect x="514.8" y="151.3" width="52.6" height="3.2" fill="#7a7a82"/><rect x="514.8" y="154.4" width="52.6" height="64.6" fill="url(#gTop)"/><rect x="514.8" y="219" width="52.6" height="316.4" fill="url(#gBody)"/><rect x="514.8" y="535.4" width="52.6" height="63.2" fill="url(#gBot)"/><line x1="514.8" y1="218.8" x2="567.4" y2="218.8" stroke="#6a6a72" stroke-width="1"/><line x1="514.8" y1="535.6" x2="567.4" y2="535.6" stroke="#55555d" stroke-width="1"/><rect x="529.6" y="148.8" width="4.6" height="2.6" fill="#a0a0a8" stroke="#6a6a72" stroke-width="0.5"/><rect x="548.4" y="148.8" width="4.6" height="2.6" fill="#a0a0a8" stroke="#6a6a72" stroke-width="0.5"/><rect x="529.4" y="157.2" width="4.6" height="61.4" fill="url(#gTop)" stroke="#3e3e46" stroke-width="1"/><rect x="529.4" y="246.2" width="4.6" height="38.4" fill="url(#gBody)" stroke="#3e3e46" stroke-width="1"/><rect x="529.4" y="352.4" width="4.6" height="44.0" fill="url(#gBody)" stroke="#3e3e46" stroke-width="1"/><rect x="529.4" y="466.6" width="4.6" height="39.7" fill="url(#gBody)" stroke="#3e3e46" stroke-width="1"/><rect x="529.4" y="535.6" width="4.6" height="53" fill="#8e8e96" stroke="#3a3a42" stroke-width="0.9"/><rect x="529.8" y="555.4" width="3.8" height="4.4" fill="#dcdce4"/><rect x="548.4" y="157.2" width="4.6" height="61.4" fill="url(#gTop)" stroke="#3e3e46" stroke-width="1"/><rect x="548.4" y="246.2" width="4.6" height="38.4" fill="url(#gBody)" stroke="#3e3e46" stroke-width="1"/><rect x="548.4" y="352.4" width="4.6" height="44.0" fill="url(#gBody)" stroke="#3e3e46" stroke-width="1"/><rect x="548.4" y="466.6" width="4.6" height="39.7" fill="url(#gBody)" stroke="#3e3e46" stroke-width="1"/><rect x="548.4" y="535.6" width="4.6" height="53" fill="#8e8e96" stroke="#3a3a42" stroke-width="0.9"/><rect x="548.8" y="555.4" width="3.8" height="4.4" fill="#dcdce4"/><ellipse cx="531.6" cy="598.8" rx="2.2" ry="1.1" fill="#e8e8f0"/><ellipse cx="550.6" cy="598.8" rx="2.2" ry="1.1" fill="#e8e8f0"/><rect x="511.2" y="146.7" width="3.8" height="455.6" fill="url(#gPlateI)" stroke="#4a4a52" stroke-width="0.9"/><rect x="567.3" y="146.7" width="4.3" height="456" fill="url(#gPlateI)" stroke="#4a4a52" stroke-width="0.9"/></g>
<g><rect x="577.6" y="272.4" width="12.6" height="7.2" fill="#b4b4b8" stroke="#8a8a92" stroke-width="0.5"/><line x1="577.6" y1="274.2" x2="589" y2="274.2" stroke="#d8d8dc" stroke-width="0.7"/><line x1="577.6" y1="276" x2="589" y2="276" stroke="#d8d8dc" stroke-width="0.7"/><line x1="577.6" y1="277.8" x2="589" y2="277.8" stroke="#d8d8dc" stroke-width="0.7"/><rect x="576.4" y="352" width="53.2" height="51.4" fill="url(#gShaft)"/><rect x="593.8" y="350" width="18.2" height="55" fill="#d4d4de"/><rect x="615.6" y="351.8" width="14.2" height="3.4" fill="#fff"/><rect x="615.6" y="401.4" width="14.2" height="2.2" fill="#fff"/><rect x="629.4" y="331.8" width="3.2" height="91.6" fill="#5e5e66"/><path d="M584.4 557.6 H593.4 L599.4 562.4 V570.4 L593.4 574.8 H584.4 Z" fill="url(#gPin)" stroke="#5a5a62" stroke-width="0.7"/><line x1="593.4" y1="557.6" x2="593.4" y2="575.2" stroke="#3a3a42" stroke-width="0.8"/><rect x="589.8" y="269.5" width="3.9" height="182" fill="url(#gThin)" stroke="#7a7a84" stroke-width="0.8"/><rect x="611.9" y="269.5" width="3.9" height="182" fill="url(#gThin)" stroke="#7a7a84" stroke-width="0.8"/><rect x="572" y="279.5" width="21.6" height="16.2" fill="url(#gTube)"/><line x1="593.5" y1="279.5" x2="593.5" y2="295.7" stroke="#34343c" stroke-width="0.9"/><rect x="615.8" y="277" width="4.4" height="18.6" rx="1.8" fill="#a4a4ae" stroke="#44444c" stroke-width="0.8"/><rect x="618.6" y="280" width="1.6" height="12.6" rx="0.8" fill="#3a3a42"/><rect x="584" y="408.4" width="4" height="8.2" rx="1" fill="#6c6c76" stroke="#2e2e36" stroke-width="0.8"/><rect x="618.4" y="408.4" width="2.4" height="8.2" rx="1" fill="#6c6c76" stroke="#2e2e36" stroke-width="0.8"/><rect x="584" y="430.9" width="4" height="8.2" rx="1" fill="#6c6c76" stroke="#2e2e36" stroke-width="0.8"/><rect x="618.4" y="430.9" width="2.4" height="8.2" rx="1" fill="#6c6c76" stroke="#2e2e36" stroke-width="0.8"/><rect x="587" y="403.6" width="7" height="18.4" rx="2.5" fill="#b4b4bc" stroke="#4a4a52" stroke-width="0.8"/><rect x="611.6" y="403.6" width="7.6" height="18.4" rx="2.5" fill="#b4b4bc" stroke="#4a4a52" stroke-width="0.8"/><rect x="590.2" y="440" width="3.6" height="11.8" fill="#7c7c84" stroke="#44444c" stroke-width="0.7"/><rect x="612" y="440" width="3.6" height="11.8" fill="#7c7c84" stroke="#44444c" stroke-width="0.7"/><path d="M589 422.4 H617.6 Q619.4 424 619.4 428 V438 Q619.4 442 616 444 L609.6 447 H597 L590.6 444 Q587.2 442 587.2 438 V428 Q587.2 424 589 422.4 Z" fill="url(#gClamp)" stroke="#4a4a52" stroke-width="0.8"/><rect x="599.2" y="318" width="7.8" height="86" fill="url(#gRod)"/><rect x="600.2" y="270" width="6.2" height="7" fill="#2e2e36"/><ellipse cx="603.3" cy="286.7" rx="9.2" ry="10.6" fill="#c2c2da"/><ellipse cx="603.4" cy="286.7" rx="5.4" ry="10.2" fill="#2c2c34"/><ellipse cx="603.4" cy="286.7" rx="2.9" ry="8" fill="#8e8e98"/><path d="M598.2 296.6 H608.6 L608.8 300 V310.6 L610.5 312.6 V318.6 L607.4 320.6 H599.4 L595.5 318.6 V312.6 L597.2 310.6 V300 Z" fill="#787888" stroke="#34343c" stroke-width="0.9"/><rect x="596" y="312.8" width="14" height="1.6" fill="#3a3a42"/><rect x="596.4" y="315.4" width="13.4" height="1.6" fill="#b0b0bc"/><rect x="599.2" y="320.4" width="7.6" height="6.6" fill="#34343c"/><rect x="599.2" y="396" width="7.6" height="5" fill="#2e2e36"/><path d="M599 400.8 H607.4 L610.5 403 V411.6 L608.4 413.6 V424 L607 427 H599.6 L597.6 424 V413.6 L595.5 411.6 V403 Z" fill="#70707c" stroke="#2e2e36" stroke-width="0.9"/><rect x="596.4" y="403.4" width="13.4" height="1.5" fill="#c4c4cc"/><rect x="596.4" y="406.4" width="13.4" height="1.5" fill="#3a3a42"/><rect x="596.4" y="409" width="13.4" height="1.5" fill="#b4b4bc"/><rect x="596.4" y="411.6" width="13.4" height="1.5" fill="#3a3a42"/><rect x="598.6" y="426.6" width="8.4" height="20.4" rx="2" fill="#2e2e36"/><rect x="601" y="428.4" width="4" height="13" fill="#82828c"/><circle cx="603" cy="431.8" r="1" fill="#1e1e24"/><rect x="599.2" y="447" width="7.8" height="85" fill="url(#gRod)"/><path d="M599 529.8 H607.4 L610.7 532.4 V538.8 L609 540.4 V554 L607.6 556 V575 L606 576.6 H601.4 L600 575 V556 L597.6 554 V540.4 L595.2 538.8 V532.4 Z" fill="#7c7c88" stroke="#34343c" stroke-width="0.9"/><rect x="596" y="533" width="14" height="1.5" fill="#c0c0c8"/><rect x="596" y="535.6" width="14" height="1.5" fill="#34343c"/><rect x="604.6" y="560" width="3.2" height="11" fill="#2c2c34"/></g>
<g><path d="M697.4 314.4 L707.5 311.9 A370 370 0 0 0 876 207.5 L911.8 207.5 L911.8 548 L675.4 564.7 Q664 566.4 654.6 562.6 Q647 559 644 551 L636.6 530.6 L636.6 317 L697.4 317 Z" fill="#cac9d9" stroke="#55555f" stroke-width="0.9" stroke-linejoin="round"/><path d="M692.4 504 V530 Q692 540 686.4 550.6 Q681.6 560 673 564.8" fill="none" stroke="#55555f" stroke-width="0.9"/><rect x="911.4" y="207.6" width="2.2" height="88" fill="#8c8c98" stroke="#55555f" stroke-width="0.5"/><rect x="911.6" y="427" width="2" height="121" fill="#8c8c98" stroke="#55555f" stroke-width="0.5"/><path d="M823.6 253.4 H911.8 V266.2 H805 Z" fill="#a9a9b3" stroke="#60606a" stroke-width="0.8"/><path d="M826.6 251.4 H911.8" stroke="#f4f4fa" stroke-width="1" fill="none"/><path d="M799.4 270.4 H911.8" stroke="#60606a" stroke-width="0.9" fill="none"/><circle cx="886" cy="226.7" r="12.9" fill="#fff" stroke="#44444c" stroke-width="0.9"/><circle cx="886" cy="226.7" r="7.9" fill="#fff" stroke="#44444c" stroke-width="0.9"/><circle cx="875.6" cy="226.4" r="0.9" fill="#fff" stroke="#66666e" stroke-width="0.5"/><circle cx="875.9" cy="300.6" r="3.4" fill="#fff" stroke="#55555f" stroke-width="0.8"/><circle cx="741.9" cy="527.1" r="3.4" fill="#fff" stroke="#55555f" stroke-width="0.8"/><circle cx="864.5" cy="518.8" r="3.4" fill="#fff" stroke="#55555f" stroke-width="0.8"/><path d="M725.9 458.7 A16.5 16.5 0 0 1 732.2 445.8 L832.8 366.7 A13.3 13.3 0 0 1 854.5 376.7 L854.5 488.6 A11.1 11.1 0 0 1 843.6 499.1 L736.7 506.5 A10.6 10.6 0 0 1 725.9 495.3 Z" fill="#fff" stroke="#55555f" stroke-width="0.9"/><path d="M697.4 317 V503.8" stroke="#55555f" stroke-width="0.8" fill="none"/><rect x="632.5" y="313.4" width="4.2" height="217" fill="#bcbcc8" stroke="#55555f" stroke-width="0.8"/><rect x="692" y="313.4" width="4.6" height="190.6" fill="#c4c4d2" stroke="#55555f" stroke-width="0.8"/><rect x="695.6" y="352" width="1.6" height="20" fill="#8a8a94"/><rect x="695.6" y="402" width="1.6" height="22" fill="#70707a"/><rect x="636.8" y="315.8" width="55" height="3.2" fill="#e4e4f0" stroke="#66666e" stroke-width="0.7"/><circle cx="664.2" cy="357.8" r="14.2" fill="url(#gHole)" stroke="#55555f" stroke-width="0.9"/><circle cx="664.2" cy="339.4" r="0.9" fill="#9a9aa4"/><circle cx="664.2" cy="376.8" r="0.9" fill="#9a9aa4"/><circle cx="664.2" cy="408.3" r="13.9" fill="#fff" stroke="#2e2e36" stroke-width="1.4"/><circle cx="664.2" cy="408.3" r="7.6" fill="#fff" stroke="#33333b" stroke-width="1"/><path d="M657.2 409.6 A7.1 8.2 0 0 1 671.4 409.6 Z" fill="#50505a"/><path d="M657.6 410 H670.8 A6.8 5.6 0 0 1 657.6 410 Z" fill="#fafafc"/><circle cx="669.8000000000001" cy="398.5" r="1.2" fill="#8a8a92"/><circle cx="653.4000000000001" cy="407.7" r="1.2" fill="#8a8a92"/><circle cx="669.8000000000001" cy="417.7" r="1.2" fill="#8a8a92"/><circle cx="664.2" cy="453.8" r="14.1" fill="#fff" stroke="#55555f" stroke-width="0.9"/><circle cx="664.2" cy="498.9" r="14.1" fill="#fff" stroke="#55555f" stroke-width="0.9"/><circle cx="664.2" cy="544.5" r="14.6" fill="#cac9d9" stroke="#44444c" stroke-width="0.9"/><circle cx="664.2" cy="544.5" r="9.2" fill="#fff" stroke="#44444c" stroke-width="0.9"/><circle cx="670.2" cy="534.1" r="1.1" fill="#e4e4ee" stroke="#66666e" stroke-width="0.5"/><circle cx="652.2" cy="544.9" r="1.1" fill="#e4e4ee" stroke="#66666e" stroke-width="0.5"/><circle cx="670.2" cy="555.3" r="1.1" fill="#e4e4ee" stroke="#66666e" stroke-width="0.5"/></g>
</g>
<g fill="none" stroke="#87919a" stroke-width="3"><path d="M199.4 510.3 H23.2 M199.4 542 H23.2" stroke-dasharray="9 6.15"/><path d="M24.7 508.8 V543.5" stroke-dasharray="7.8 5.6"/></g>
<g stroke="#000" fill="none"><line x1="76.2" y1="508.8" x2="76.2" y2="923" stroke-width="2.05" stroke-dasharray="12.3 12.89"/><line x1="307.9" y1="536.6" x2="307.9" y2="840" stroke-width="2.05" stroke-dasharray="12.0 12.27"/><line x1="494.4" y1="537" x2="494.4" y2="756" stroke-width="2.05" stroke-dasharray="12.8 13.00"/><line x1="543.9" y1="575" x2="543.9" y2="673" stroke-width="2.05" stroke-dasharray="13.6 14.50"/><line x1="911.0" y1="486.9" x2="911.0" y2="923" stroke-width="2.05" stroke-dasharray="12.3 12.70"/><line x1="543.6" y1="673.0" x2="910.8" y2="673.0" stroke-width="2.2"/><line x1="494.2" y1="756.95" x2="910.8" y2="756.95" stroke-width="2.2"/><line x1="308.4" y1="840.6" x2="910.8" y2="840.6" stroke-width="2.2"/><line x1="78.1" y1="924.15" x2="910.8" y2="924.15" stroke-width="2.2"/></g><g fill="#000"><circle cx="543.6" cy="673.0" r="4.8"/><circle cx="910.8" cy="673.0" r="4.8"/><circle cx="494.2" cy="756.95" r="4.8"/><circle cx="910.8" cy="756.95" r="4.8"/><circle cx="308.4" cy="840.6" r="4.8"/><circle cx="910.8" cy="840.6" r="4.8"/><circle cx="78.1" cy="924.15" r="4.8"/><circle cx="910.8" cy="924.15" r="4.8"/><circle cx="716.7" cy="635.4" r="26.8"/><circle cx="543" cy="720.4" r="26.8"/><circle cx="351" cy="804" r="26.8"/><circle cx="124.9" cy="888.6" r="26.8"/></g><g fill="#fff" stroke="#fff" stroke-width="0.9" stroke-linejoin="round" font-size="37.6" font-weight="bold" text-anchor="middle"><text x="716.2" y="649.0">A</text><text x="542.5" y="734.0">B</text><text x="350.5" y="817.6">C</text><text x="124.0" y="902.2">D</text></g>
<text transform="translate(122.1 834.6) rotate(-90)" font-size="37.7" letter-spacing="0.25" fill="#000" stroke="#fff" stroke-width="0.55">Telescopic pipes:</text>
</svg>
</body>
</html>
